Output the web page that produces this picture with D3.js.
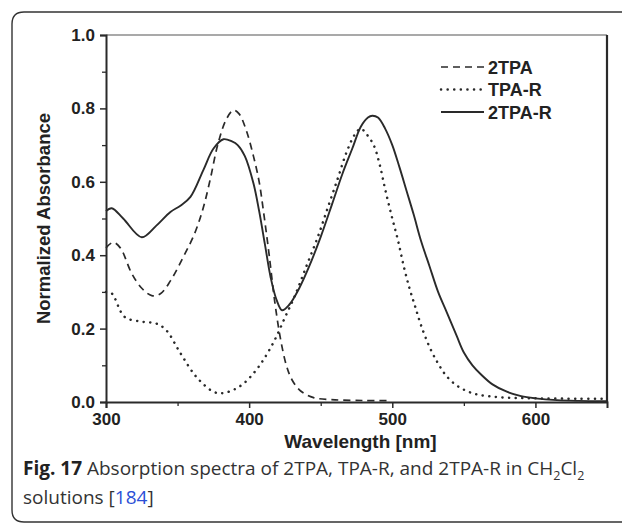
<!DOCTYPE html>
<html>
<head>
<meta charset="utf-8">
<script src="https://cdn.jsdelivr.net/npm/d3@7"></script>
<style>
  body { margin: 0; background: #fff; }
  svg { display: block; }
</style>
</head>
<body>
<svg id="chart" width="622" height="526"></svg>
<script>
// wavelength (nm) / normalized absorbance
const tpa2Wl  = [300, 305, 310, 318, 325, 332, 338, 345, 354, 362, 368, 373, 378, 384, 389, 393, 398, 403, 407, 410, 414, 418, 422, 426, 430, 436, 445, 460, 480, 497];
const tpa2Abs = [0.42, 0.435, 0.42, 0.35, 0.31, 0.29, 0.295, 0.33, 0.395, 0.46, 0.53, 0.61, 0.70, 0.77, 0.795, 0.785, 0.74, 0.67, 0.60, 0.52, 0.40, 0.27, 0.17, 0.10, 0.06, 0.03, 0.012, 0.006, 0.004, 0.004];

const tpaRWl  = [300, 304, 313, 325, 335, 342, 352, 363, 375, 381, 389, 396, 403, 410, 418, 425, 432, 440, 448, 455, 462, 468, 474, 478, 482, 487, 491, 495, 500, 504, 508, 512, 516, 520, 526, 532, 538, 545, 552, 560, 575, 600, 630, 650];
const tpaRAbs = [0.30, 0.296, 0.232, 0.219, 0.214, 0.196, 0.133, 0.069, 0.028, 0.024, 0.033, 0.05, 0.078, 0.115, 0.17, 0.23, 0.29, 0.37, 0.45, 0.53, 0.61, 0.68, 0.73, 0.745, 0.73, 0.70, 0.65, 0.58, 0.50, 0.44, 0.37, 0.31, 0.26, 0.21, 0.15, 0.105, 0.07, 0.045, 0.03, 0.02, 0.013, 0.01, 0.009, 0.009];

const tpa2RWl  = [300, 304, 312, 325, 335, 345, 352, 359, 368, 375, 382, 388, 392, 397, 403, 407, 411, 415, 419, 423, 428, 435, 442, 450, 458, 465, 472, 478, 483, 486, 490, 495, 500, 505, 510, 515, 520, 526, 532, 538, 545, 550, 556, 562, 570, 580, 590, 600, 615, 630, 650];
const tpa2RAbs = [0.52, 0.528, 0.50, 0.449, 0.48, 0.518, 0.535, 0.559, 0.632, 0.69, 0.716, 0.71, 0.70, 0.67, 0.596, 0.52, 0.43, 0.34, 0.28, 0.25, 0.265, 0.31, 0.37, 0.45, 0.54, 0.62, 0.69, 0.75, 0.775, 0.78, 0.775, 0.745, 0.70, 0.64, 0.575, 0.51, 0.44, 0.37, 0.30, 0.245, 0.18, 0.135, 0.10, 0.075, 0.048, 0.028, 0.016, 0.01, 0.005, 0.003, 0.002];

const seriesNames = ['2TPA', 'TPA-R', '2TPA-R'];
const xTicks = [300, 400, 500, 600];
const xMinor = [350, 450, 550];
const yTicks = [0.0, 0.2, 0.4, 0.6, 0.8, 1.0];
const yMinor = [0.1, 0.3, 0.5, 0.7, 0.9];

const svg = d3.select('#chart');
const margin = { top: 35, right: 15, bottom: 124, left: 106 };
const width = 622, height = 526;
const ink = '#2a2a2a';

// rounded caption frame, open on the right
svg.append('path')
    .attr('d', `M630,12 H24 Q12,12 12,24 V510 Q12,522 24,522 H630`)
    .attr('fill', 'none')
    .attr('stroke', '#333')
    .attr('stroke-width', 1.4);

const x = d3.scaleLinear().domain([300, 650]).range([margin.left, width - margin.right]);
const y = d3.scaleLinear().domain([0, 1]).range([height - margin.bottom, margin.top]);

const fontAxis = 'Liberation Sans, Arial, sans-serif';

// frame top/right
svg.append('line').attr('x1', x(300)).attr('x2', x(650)).attr('y1', y(1)).attr('y2', y(1))
    .attr('stroke', '#555').attr('stroke-width', 1.2);
svg.append('line').attr('x1', x(650)).attr('x2', x(650)).attr('y1', y(1)).attr('y2', y(0))
    .attr('stroke', ink).attr('stroke-width', 2.2);

// bottom axis
const xAxis = svg.append('g')
    .attr('transform', `translate(0,${y(0)})`)
    .call(d3.axisBottom(x).tickValues(xTicks).tickSize(6).tickPadding(5).tickFormat(d3.format('d')));
xAxis.select('.domain').attr('stroke', ink).attr('stroke-width', 2);
xAxis.selectAll('.tick line').attr('stroke', ink).attr('stroke-width', 1.5);
xAxis.selectAll('text').attr('font-family', fontAxis).attr('font-weight', 'bold')
    .attr('font-size', 17).attr('fill', '#222');
svg.append('g')
    .attr('transform', `translate(0,${y(0)})`)
    .call(d3.axisBottom(x).tickValues(xMinor).tickSize(4).tickFormat(''))
    .call(g => g.select('.domain').remove())
    .selectAll('.tick line').attr('stroke', ink).attr('stroke-width', 1.3);

// left axis
const yAxis = svg.append('g')
    .attr('transform', `translate(${x(300)},0)`)
    .call(d3.axisLeft(y).tickValues(yTicks).tickSize(6).tickPadding(5).tickFormat(d3.format('.1f')));
yAxis.select('.domain').attr('stroke', ink).attr('stroke-width', 2);
yAxis.selectAll('.tick line').attr('stroke', ink).attr('stroke-width', 1.5);
yAxis.selectAll('text').attr('font-family', fontAxis).attr('font-weight', 'bold')
    .attr('font-size', 17).attr('fill', '#222');
svg.append('g')
    .attr('transform', `translate(${x(300)},0)`)
    .call(d3.axisLeft(y).tickValues(yMinor).tickSize(4).tickFormat(''))
    .call(g => g.select('.domain').remove())
    .selectAll('.tick line').attr('stroke', ink).attr('stroke-width', 1.3);

// axis titles
svg.append('text')
    .attr('x', (x(300) + x(650)) / 2 + 4)
    .attr('y', 448)
    .attr('text-anchor', 'middle')
    .attr('font-family', fontAxis).attr('font-weight', 'bold').attr('font-size', 19)
    .attr('fill', '#222')
    .text('Wavelength [nm]');

svg.append('text')
    .attr('transform', `translate(50,${(y(0) + y(1)) / 2}) rotate(-90)`)
    .attr('text-anchor', 'middle')
    .attr('font-family', fontAxis).attr('font-weight', 'bold').attr('font-size', 18.5)
    .attr('fill', '#222')
    .text('Normalized Absorbance');

// curves
const line = d3.line()
    .x(d => x(d[0]))
    .y(d => y(d[1]))
    .curve(d3.curveCatmullRom.alpha(0.5));

const styles = [
    { dash: '7,5', width: 1.7, cap: 'butt' },
    { dash: '0.1,6.5', width: 2.5, cap: 'round' },
    { dash: null, width: 1.9, cap: 'butt' },
];

const series = [
    d3.zip(tpa2Wl, tpa2Abs),
    d3.zip(tpaRWl, tpaRAbs),
    d3.zip(tpa2RWl, tpa2RAbs),
];

series.forEach((pts, i) => {
    svg.append('path')
        .datum(pts)
        .attr('fill', 'none')
        .attr('stroke', ink)
        .attr('stroke-width', styles[i].width)
        .attr('stroke-linecap', styles[i].cap)
        .attr('stroke-dasharray', styles[i].dash)
        .attr('d', line);
});

// legend
const legend = svg.append('g');
seriesNames.forEach((name, i) => {
    const ly = 67 + i * 22.5;
    legend.append('line')
        .attr('x1', 441).attr('x2', 484)
        .attr('y1', ly).attr('y2', ly)
        .attr('stroke', ink)
        .attr('stroke-width', styles[i].width)
        .attr('stroke-linecap', styles[i].cap)
        .attr('stroke-dasharray', styles[i].dash);
    legend.append('text')
        .attr('x', 488).attr('y', ly + 6.5)
        .attr('font-family', fontAxis).attr('font-weight', 'bold').attr('font-size', 18)
        .attr('fill', '#222')
        .text(name);
});

// caption
const capFont = 'Open Sans, Noto Sans, sans-serif';
const cap1 = svg.append('text')
    .attr('x', 23).attr('y', 475)
    .attr('font-family', capFont).attr('font-size', 19).attr('fill', '#333');
cap1.append('tspan').attr('font-weight', 'bold').attr('fill', '#222').text('Fig. 17');
cap1.append('tspan').text(' Absorption spectra of 2TPA, TPA-R, and 2TPA-R in CH');
cap1.append('tspan').attr('font-size', 12.5).attr('dy', 4.5).text('2');
cap1.append('tspan').attr('dy', -4.5).text('Cl');
cap1.append('tspan').attr('font-size', 12.5).attr('dy', 4.5).text('2');

const cap2 = svg.append('text')
    .attr('x', 23).attr('y', 504)
    .attr('font-family', capFont).attr('font-size', 19).attr('fill', '#333');
cap2.append('tspan').text('solutions [');
cap2.append('tspan').attr('fill', '#2b4fd6').text('184');
cap2.append('tspan').text(']');
</script>
</body>
</html>
